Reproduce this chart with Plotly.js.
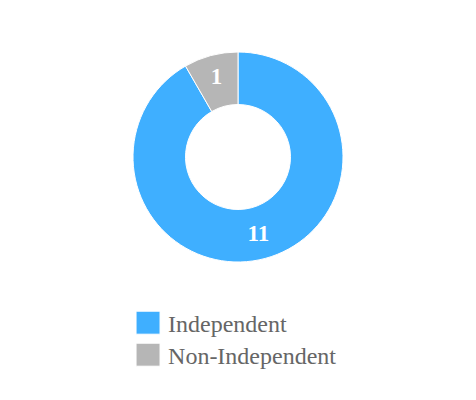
<!DOCTYPE html>
<html>
<head>
<meta charset="utf-8">
<script src="https://cdn.plot.ly/plotly-3.0.1.min.js"></script>
<style>
  body { margin: 0; background: #fff; }
  #chart { width: 476px; height: 400px; }
</style>
</head>
<body>
<div id="chart"></div>
<script>
    // slice data
    const labels = ['Independent', 'Non-Independent'];
    const counts = [11, 1];
    const colors = ['#3fafff', '#b6b6b6'];

    const trace = {
        type: 'pie',
        labels: labels,
        values: counts,
        hole: 0.5,
        sort: false,
        direction: 'clockwise',
        rotation: 0,
        textinfo: 'value',
        textposition: 'inside',
        insidetextorientation: 'horizontal',
        textfont: {family: 'Liberation Serif', size: 23, color: '#ffffff', weight: 'bold'},
        marker: {colors: colors, line: {color: '#ffffff', width: 1}},
        domain: {x: [0, 1], y: [0.345, 0.87]},
        hoverinfo: 'none'
    }

    const layout = {
        width: 476,
        height: 400,
        margin: {t: 0, b: 0, l: 0, r: 0},
        paper_bgcolor: '#ffffff',
        showlegend: true,
        legend: {
            x: 0.269,
            y: 0.2485,
            xanchor: 'left',
            yanchor: 'top',
            font: {family: 'Liberation Serif', size: 24, color: '#666666'},
            tracegroupgap: 0
        }
    }

    Plotly.newPlot('chart', [trace], layout, {displayModeBar: false, staticPlot: true}).then(() => {
        // bigger legend squares and tighter rows, like the original
        for (const p of document.querySelectorAll('.legendpoints path')) {
            p.setAttribute('d', 'M12,11.5H-12V-11.5H12Z');
        }
        const rows = document.querySelectorAll('.legend .traces');
        if (rows.length > 1) {
            const m = /translate\(([-\d.]+),\s*([-\d.]+)\)/.exec(rows[0].getAttribute('transform'));
            const x0 = m ? +m[1] : 0, y0 = m ? +m[2] : 0;
            rows.forEach((r, i) => r.setAttribute('transform', `translate(${x0},${y0 + i * 32})`));
        }
    });
</script>
</body>
</html>
